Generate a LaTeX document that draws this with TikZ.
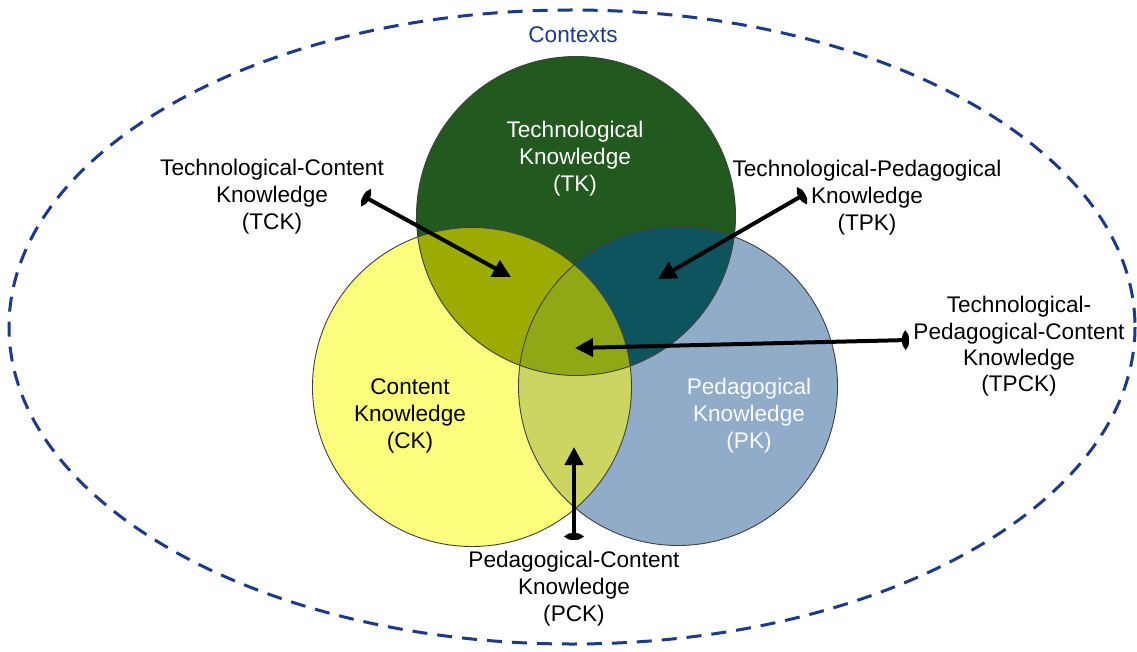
\documentclass[tikz,border=0pt]{standalone}
\usepackage{fontspec}
\setmainfont{Liberation Sans}
\usetikzlibrary{arrows.meta}
\definecolor{tkgreen}{RGB}{33,89,30}
\definecolor{ckyellow}{RGB}{252,252,125}
\definecolor{pkblue}{RGB}{145,172,201}
\definecolor{tckolive}{RGB}{157,170,0}
\definecolor{tpkteal}{RGB}{14,84,94}
\definecolor{pckkhaki}{RGB}{204,212,98}
\definecolor{tpckgreen}{RGB}{145,168,22}
\definecolor{ctxblue}{RGB}{28,58,138}
\tikzset{
  lbl/.style={align=center, font=\fontsize{22.6}{27}\selectfont, inner sep=0pt},
  pointer/.style={line width=4pt, draw=black,
    {Ellipse[length=7pt,width=17pt]}-{Triangle[length=18pt,width=18pt]}},
  rim/.style={draw=black!75, line width=0.9pt}
}
\begin{document}
\begin{tikzpicture}[x=1pt,y=-1pt]
\useasboundingbox (0,0) rectangle (1137,652);
\fill[white] (0,0) rectangle (1137,652);

% context ellipse
\draw[ctxblue, line width=3pt, dash pattern=on 15pt off 10pt]
  (572,327) ellipse [x radius=563, y radius=317];
\node[lbl, text=ctxblue] (ctx) at (573,35) {Contexts};

% circle centres
\coordinate (ctk) at (576,216);
\coordinate (cck) at (472,387);
\coordinate (cpk) at (678,386);
\def\rr{159.5}

% base discs
\fill[ckyellow] (cck) circle (\rr);
\fill[pkblue] (cpk) circle (\rr);
\fill[tkgreen] (ctk) circle (\rr);

% pairwise overlaps
\begin{scope}
  \clip (ctk) circle (\rr);
  \fill[tckolive] (cck) circle (\rr);
\end{scope}
\begin{scope}
  \clip (ctk) circle (\rr);
  \fill[tpkteal] (cpk) circle (\rr);
\end{scope}
\begin{scope}
  \clip (cck) circle (\rr);
  \fill[pckkhaki] (cpk) circle (\rr);
\end{scope}
% triple overlap
\begin{scope}
  \clip (ctk) circle (\rr);
  \clip (cck) circle (\rr);
  \fill[tpckgreen] (cpk) circle (\rr);
\end{scope}

% outlines
\draw[rim] (ctk) circle (\rr);
\draw[rim] (cck) circle (\rr);
\draw[rim] (cpk) circle (\rr);

% circle labels
\node[lbl, text=white] (tk) at (575,159) {Technological\\Knowledge\\(TK)};
\node[lbl] (ck) at (410,415.5) {Content\\Knowledge\\(CK)};
\node[lbl, text=white!94!pkblue] (pk) at (749,415.5) {Pedagogical\\Knowledge\\(PK)};

% overlap labels
\node[lbl] (tck) at (272,197) {Technological-Content\\Knowledge\\(TCK)};
\node[lbl] (tpk) at (867,197.5) {Technological-Pedagogical\\Knowledge\\(TPK)};
\node[lbl, font=\fontsize{22.6}{26.3}\selectfont] (tpck) at (1019,346.5) {Technological-\\Pedagogical-Content\\Knowledge\\(TPCK)};
\node[lbl] (pck) at (574,588.5) {Pedagogical-Content\\Knowledge\\(PCK)};

% pointer anchors
\coordinate (tckt) at (363,196);
\coordinate (tckh) at (511,277);
\coordinate (tpkt) at (805,194);
\coordinate (tpkh) at (658,279);
\coordinate (tpckt) at (909,340);
\coordinate (tpckh) at (575,348);
\coordinate (pckt) at (574,540);
\coordinate (pckh) at (574,447);

\draw[pointer] (tckt) -- (tckh);
\draw[pointer] (tpkt) -- (tpkh);
\draw[pointer] (tpckt) -- (tpckh);
\draw[pointer] (pckt) -- (pckh);
\end{tikzpicture}
\end{document}
